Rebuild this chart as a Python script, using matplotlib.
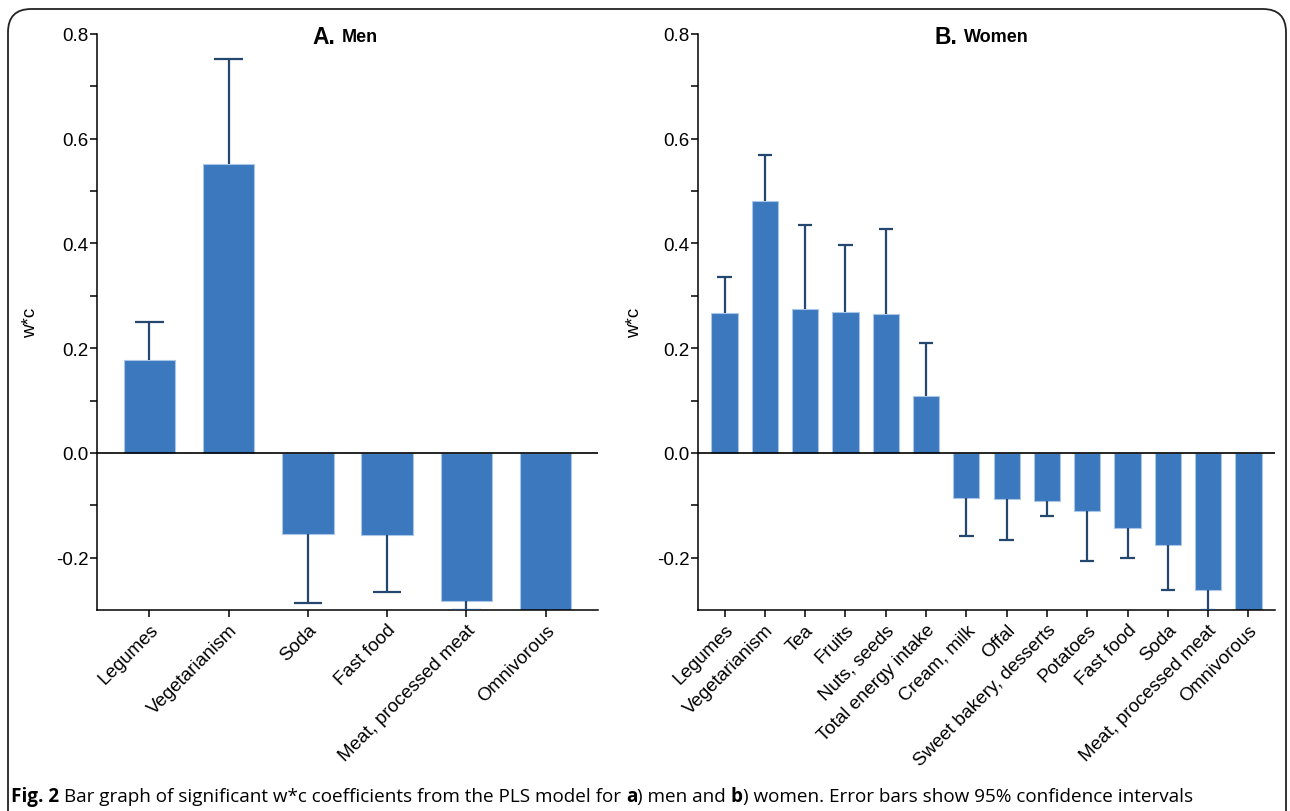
import matplotlib
matplotlib.use("Agg")
import matplotlib.pyplot as plt
import numpy as np
from matplotlib.patches import FancyBboxPatch
from matplotlib.ticker import FixedLocator

plt.rcParams['font.family'] = ['Liberation Sans', 'DejaVu Sans']

# ---------------- data ----------------
men_labels = ["Legumes", "Vegetarianism", "Soda", "Fast food",
              "Meat, processed meat", "Omnivorous"]
men_values = [0.178, 0.551, -0.155, -0.157, -0.282, -0.38]
men_err_end = [0.250, 0.752, -0.286, -0.265, -0.300, -0.50]

women_labels = ["Legumes", "Vegetarianism", "Tea", "Fruits", "Nuts, seeds",
                "Total energy intake", "Cream, milk", "Offal",
                "Sweet bakery, desserts", "Potatoes", "Fast food", "Soda",
                "Meat, processed meat", "Omnivorous"]
women_values = [0.267, 0.481, 0.274, 0.269, 0.266, 0.109, -0.087, -0.088,
                -0.092, -0.111, -0.144, -0.176, -0.261, -0.38]
women_err_end = [0.335, 0.569, 0.436, 0.397, 0.428, 0.210, -0.158, -0.167,
                 -0.121, -0.206, -0.201, -0.262, -0.300, -0.50]

y_ticks = [0.8, 0.6, 0.4, 0.2, 0.0, -0.2]
y_tick_labels = ["0.8", "0.6", "0.4", "0.2", "0.0", "-0.2"]

BAR_COLOR = "#3b78be"
EDGE_COLOR = "#a9c6e8"
ERR_COLOR = "#24476f"
FS = 13.5

W, H = 1290, 812
fig = plt.figure(figsize=(W / 100, H / 100), dpi=100)

# outer rounded frame
frame = FancyBboxPatch((8 / W, -0.05), (1286 - 8) / W, 1.05 - 10 / H,
                       boxstyle="round,pad=0,rounding_size=0.018",
                       transform=fig.transFigure, fill=False,
                       edgecolor="#222222", linewidth=1.3, mutation_aspect=W / H)
fig.patches.append(frame)

bottom = 1 - 611 / H
height = (611 - 35) / H
ax1 = fig.add_axes([97 / W, bottom, (598 - 97) / W, height])
ax2 = fig.add_axes([698 / W, bottom, (1275 - 698) / W, height])


def draw(ax, labels, values, err_end, ylabel_x):
    n = len(labels)
    x = np.arange(n)
    ax.bar(x, values, width=0.65, color=BAR_COLOR, edgecolor=EDGE_COLOR,
           linewidth=0.8, zorder=2)
    ax.vlines(x, values, err_end, color=ERR_COLOR, linewidth=1.6, zorder=3)
    ax.hlines(err_end, x - 0.18, x + 0.18, color=ERR_COLOR, linewidth=1.6,
              zorder=3)
    ax.axhline(0, color="black", linewidth=1.2, zorder=4)
    ax.set_xlim(-0.66, n - 1 + 0.66)
    ax.set_ylim(-0.3, 0.8)
    for s in ["top", "right"]:
        ax.spines[s].set_visible(False)
    for s in ["left", "bottom"]:
        ax.spines[s].set_linewidth(1.1)
    ax.set_yticks(y_ticks)
    ax.set_yticklabels(y_tick_labels)
    ax.yaxis.set_minor_locator(FixedLocator([0.7, 0.5, 0.3, 0.1, -0.1]))
    ax.tick_params(axis="y", which="both", length=5, width=1.1,
                   labelsize=FS, pad=1)
    ax.set_xticks(x)
    ax.set_xticklabels(labels, rotation=45, ha="right",
                       rotation_mode="anchor", fontsize=FS)
    ax.tick_params(axis="x", length=5, width=1.1, pad=3)
    ax.set_ylabel("w*c", fontsize=FS)
    ax.yaxis.set_label_coords(ylabel_x, 0.5)


draw(ax1, men_labels, men_values, men_err_end, -0.115)
draw(ax2, women_labels, women_values, women_err_end, -0.095)

# titles
ty = 1 - 38 / H
fig.text(312 / W, ty, "A.", fontsize=16.5, fontweight="bold", va="center")
fig.text(342 / W, ty, "Men", fontsize=13, fontweight="bold", va="center")
fig.text(934 / W, ty, "B.", fontsize=16.5, fontweight="bold", va="center")
fig.text(964 / W, ty, "Women", fontsize=13, fontweight="bold", va="center")

# caption
cap_y = 1 - 797 / H
cap_family = ["Liberation Sans Narrow", "Open Sans"]
CFS = 13.6
parts = [("Fig. 2 ", "bold"),
         ("Bar graph of significant w*c coefficients from the PLS model for ",
          "normal"),
         ("a", "bold"), (") men and ", "normal"), ("b", "bold"),
         (") women. Error bars show 95% confidence intervals", "normal")]
fig.canvas.draw()
r = fig.canvas.get_renderer()
nx = 11 / W
for txt, wt in parts:
    t = fig.text(nx, cap_y, txt, fontsize=CFS, fontweight=wt, va="center",
                 family=cap_family)
    fig.canvas.draw()
    nx = t.get_window_extent(r).x1 / W

fig.savefig("out.png", dpi=100)
